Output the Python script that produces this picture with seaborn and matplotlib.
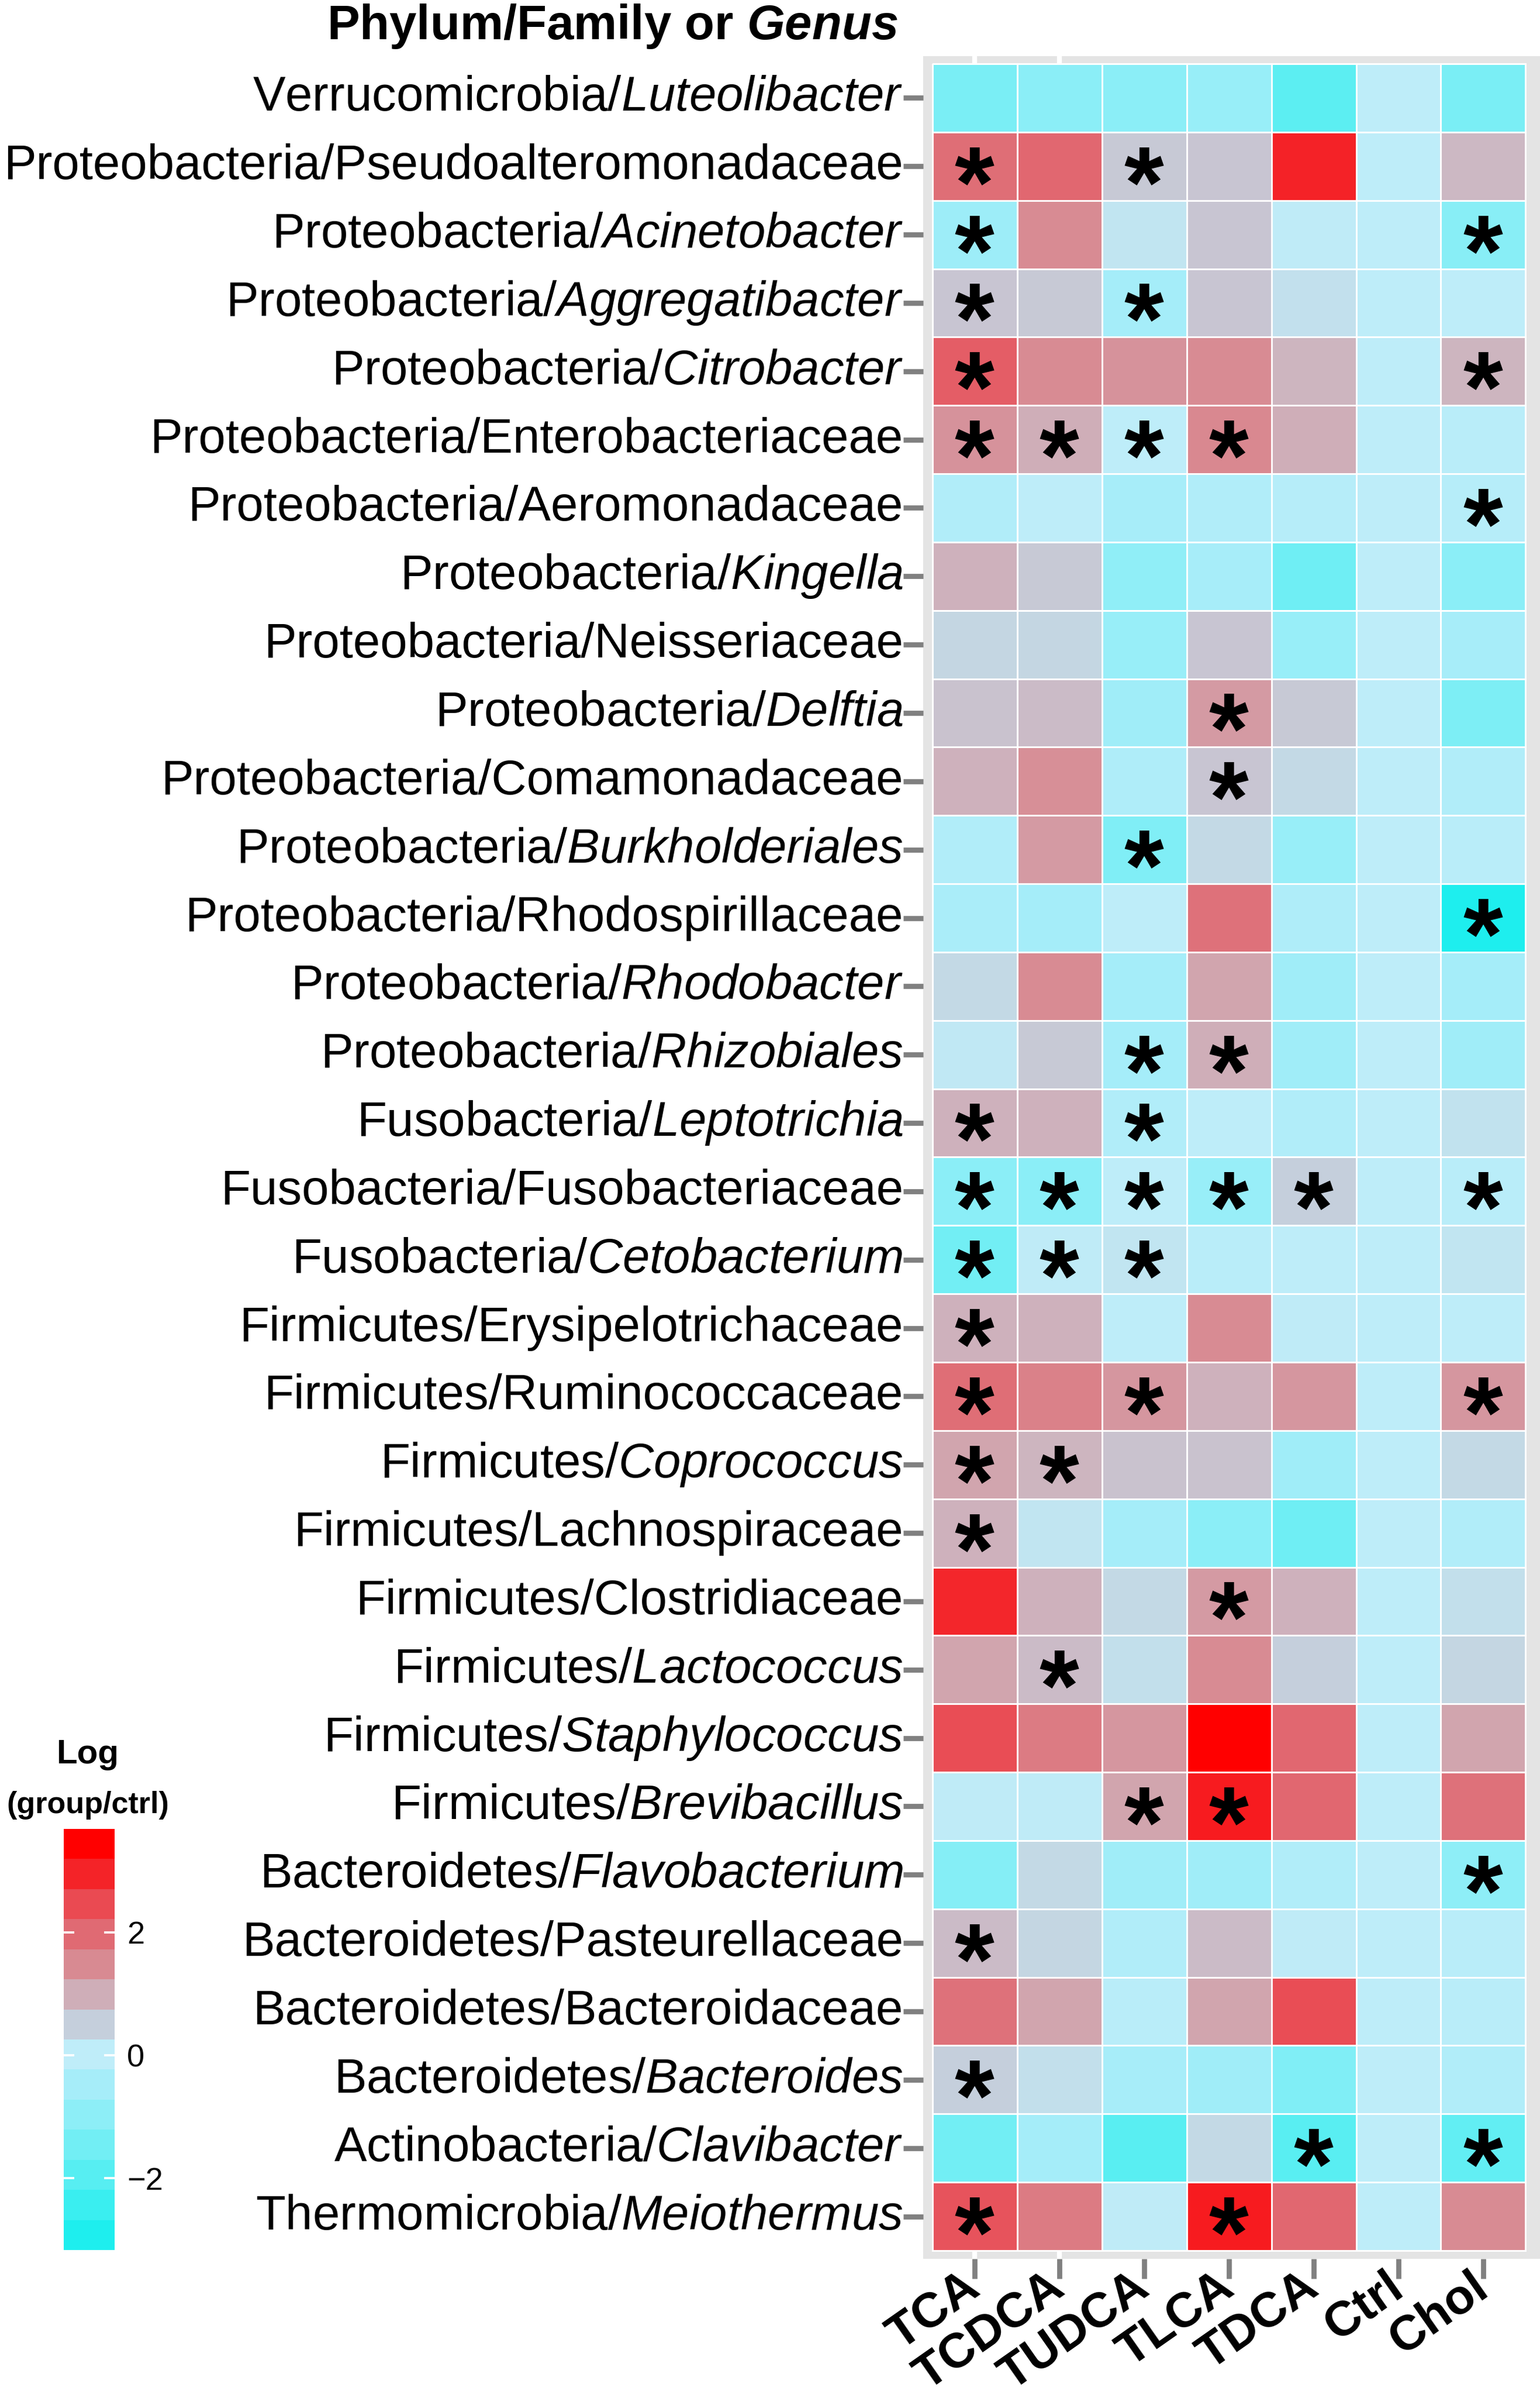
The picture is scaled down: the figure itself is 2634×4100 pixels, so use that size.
import numpy as np
import pandas as pd
import seaborn as sns
import matplotlib
matplotlib.use("Agg")
import matplotlib.pyplot as plt
from matplotlib import font_manager
from matplotlib.font_manager import FontProperties
from matplotlib.colors import LinearSegmentedColormap, ListedColormap, BoundaryNorm
from matplotlib.cm import ScalarMappable
from matplotlib.textpath import TextPath
from matplotlib.transforms import offset_copy

# ---- data -------------------------------------------------------------
groups = ["TCA", "TCDCA", "TUDCA", "TLCA", "TDCA", "Ctrl", "Chol"]

phyla = ["Verrucomicrobia"] + ["Proteobacteria"] * 14 + ["Fusobacteria"] * 3 \
    + ["Firmicutes"] * 8 + ["Bacteroidetes"] * 4 + ["Actinobacteria", "Thermomicrobia"]

taxa = ["Luteolibacter", "Pseudoalteromonadaceae", "Acinetobacter", "Aggregatibacter",
        "Citrobacter", "Enterobacteriaceae", "Aeromonadaceae", "Kingella", "Neisseriaceae",
        "Delftia", "Comamonadaceae", "Burkholderiales", "Rhodospirillaceae", "Rhodobacter",
        "Rhizobiales", "Leptotrichia", "Fusobacteriaceae", "Cetobacterium",
        "Erysipelotrichaceae", "Ruminococcaceae", "Coprococcus", "Lachnospiraceae",
        "Clostridiaceae", "Lactococcus", "Staphylococcus", "Brevibacillus", "Flavobacterium",
        "Pasteurellaceae", "Bacteroidaceae", "Bacteroides", "Clavibacter", "Meiothermus"]

# taxa printed in italics (genus level)
italic_taxa = {"Luteolibacter", "Acinetobacter", "Aggregatibacter", "Citrobacter", "Kingella",
               "Delftia", "Burkholderiales", "Rhodobacter", "Rhizobiales", "Leptotrichia",
               "Cetobacterium", "Coprococcus", "Lactococcus", "Staphylococcus", "Brevibacillus",
               "Flavobacterium", "Bacteroides", "Clavibacter", "Meiothermus"}

# log(group/ctrl), columns follow `groups`
log_ratio = [
    [-1.30, -1.00, -1.00, -0.75, -1.85, 0.0, -1.30],
    [1.90, 2.00, 0.60, 0.65, 2.95, 0.0, 0.85],
    [-0.65, 1.45, 0.15, 0.65, 0.05, 0.0, -1.05],
    [0.65, 0.60, -0.50, 0.65, 0.22, 0.0, 0.00],
    [2.15, 1.45, 1.35, 1.45, 0.90, 0.0, 0.90],
    [1.35, 1.00, 0.00, 1.50, 1.00, 0.0, -0.10],
    [-0.25, 0.00, -0.45, -0.25, -0.15, 0.0, -0.15],
    [0.95, 0.60, -0.90, -0.45, -1.50, 0.0, -1.00],
    [0.40, 0.40, -0.75, 0.65, -0.75, 0.0, -0.45],
    [0.70, 0.80, -0.60, 1.25, 0.60, 0.0, -1.25],
    [0.95, 1.40, -0.30, 0.65, 0.35, 0.0, -0.25],
    [-0.25, 1.25, -1.20, 0.35, -0.75, 0.0, -0.10],
    [-0.40, -0.50, 0.00, 1.85, -0.30, 0.0, -3.10],
    [0.35, 1.45, -0.50, 1.10, -0.60, 0.0, -0.50],
    [0.10, 0.60, -0.50, 1.00, -0.60, 0.0, -0.60],
    [0.95, 0.95, -0.25, 0.00, -0.25, 0.0, 0.20],
    [-1.00, -1.00, 0.00, -0.75, 0.50, 0.0, -0.10],
    [-1.45, 0.05, 0.15, -0.10, 0.00, 0.0, 0.15],
    [0.95, 0.95, 0.00, 1.45, 0.05, 0.0, 0.00],
    [1.90, 1.60, 1.30, 0.95, 1.30, 0.0, 1.30],
    [1.10, 0.90, 0.70, 0.70, -0.60, 0.0, 0.35],
    [0.95, 0.15, -0.50, -1.00, -1.50, 0.0, -0.25],
    [2.90, 0.95, 0.35, 1.25, 0.95, 0.0, 0.25],
    [1.10, 0.80, 0.25, 1.45, 0.50, 0.0, 0.40],
    [2.40, 1.70, 1.30, 3.45, 2.00, 0.0, 1.10],
    [0.05, 0.05, 1.10, 3.05, 2.00, 0.0, 1.85],
    [-1.10, 0.35, -0.60, -0.60, -0.25, 0.0, -0.95],
    [0.80, 0.40, -0.25, 0.80, 0.05, 0.0, -0.10],
    [1.85, 1.10, -0.10, 1.10, 2.40, 0.0, -0.10],
    [0.50, 0.25, -0.45, -0.60, -1.20, 0.0, -0.25],
    [-1.45, -0.50, -1.90, 0.35, -1.90, 0.0, -1.75],
    [2.30, 1.70, 0.05, 3.05, 2.00, 0.0, 1.45],
]

# groups marked with an asterisk, per row
signif = [
    [], ["TCA", "TUDCA"], ["TCA", "Chol"], ["TCA", "TUDCA"], ["TCA", "Chol"],
    ["TCA", "TCDCA", "TUDCA", "TLCA"], ["Chol"], [], [], ["TLCA"], ["TLCA"], ["TUDCA"],
    ["Chol"], [], ["TUDCA", "TLCA"], ["TCA", "TUDCA"],
    ["TCA", "TCDCA", "TUDCA", "TLCA", "TDCA", "Chol"], ["TCA", "TCDCA", "TUDCA"], ["TCA"],
    ["TCA", "TUDCA", "Chol"], ["TCA", "TCDCA"], ["TCA"], ["TLCA"], ["TCDCA"], [],
    ["TUDCA", "TLCA"], ["Chol"], ["TCA"], [], ["TCA"], ["TDCA", "Chol"], ["TCA", "TLCA"],
]

# legend colour steps, top (high) to bottom (low)
legend_colors = ["#FF0000", "#F42328", "#EA4A52", "#E06A73", "#D88A92", "#CFAEB8", "#C5CFDC",
                 "#BFEDF9", "#A6EDF9", "#8DEEF7", "#72EEF4", "#57EEF2", "#3AEEF0", "#1EEEEE"]
legend_ticks = [-2, 0, 2]
CB_MIN, CB_MAX = -3.17, 3.68

# ---- style ----------------------------------------------------------------
W, H, DPI = 2634, 4100, 300
plt.rcParams["font.family"] = ["Liberation Sans", "DejaVu Sans"]
plt.rcParams["mathtext.fontset"] = "custom"
plt.rcParams["mathtext.rm"] = "Liberation Sans"
plt.rcParams["mathtext.it"] = "Liberation Sans:italic"
plt.rcParams["mathtext.bf"] = "Liberation Sans:bold"
plt.rcParams["mathtext.bfit"] = "Liberation Sans:italic:bold"

row_labels = [f"{p}/" + (r"$\mathit{" + t + "}$" if t in italic_taxa else t)
              for p, t in zip(phyla, taxa)]
df = pd.DataFrame(log_ratio, index=row_labels, columns=groups)

# continuous map through the legend colours (placed at the bin centres)
bounds = np.linspace(CB_MIN, CB_MAX, len(legend_colors) + 1)
centres = (bounds[:-1] + bounds[1:]) / 2
low_to_high = legend_colors[::-1]
pos = (centres - centres[0]) / (centres[-1] - centres[0])
cell_cmap = LinearSegmentedColormap.from_list("logratio", list(zip(pos, low_to_high)))

fig = plt.figure(figsize=(W / DPI, H / DPI), dpi=DPI)
ax = fig.add_axes([1579 / W, 1 - 3862 / H, (W - 1579) / W, (3862 - 96) / H])

ax.axvline(0.5, color="white", lw=2.0, zorder=0.5)
ax.axvline(1.5, color="white", lw=2.0, zorder=0.5)

sns.heatmap(df, ax=ax, cmap=cell_cmap, vmin=centres[0], vmax=centres[-1], cbar=False,
            linewidths=0.6, linecolor="white", xticklabels=groups, yticklabels=row_labels)

ax.set_facecolor("#E4E4E4")
ax.set_xlim(-0.107, 7.169)
ax.set_ylim(32.12, -0.111)
for s in ax.spines.values():
    s.set_visible(False)
ax.set_xlabel("")
ax.set_ylabel("")
ax.tick_params(axis="both", color="#808080", length=8.2, width=2.1)
ax.tick_params(axis="y", labelsize=20, pad=0, labelrotation=0)
ax.tick_params(axis="x", labelsize=20, pad=1.5)
for lab in ax.get_xticklabels():
    lab.set_rotation(35)
    lab.set_ha("right")
    lab.set_va("center")
    lab.set_rotation_mode("anchor")
    lab.set_fontweight("bold")
for lab in ax.get_yticklabels():
    lab.set_ha("right")
    lab.set_va("center")

# asterisks centred on their ink box
star_fp = FontProperties(family="Liberation Sans", weight="bold")
ext = TextPath((0, 0), "*", size=100, prop=star_fp).get_extents()
star_fs = 16.1 / (ext.width / 100)
cx = (ext.x0 + ext.x1) / 2 * star_fs / 100
cy = (ext.y0 + ext.y1) / 2 * star_fs / 100
star_tr = offset_copy(ax.transData, fig=fig, x=-cx, y=-cy, units="points")
for i, row in enumerate(signif):
    for g in row:
        j = groups.index(g)
        ax.text(j + 0.5, i + 0.5, "*", transform=star_tr, ha="left", va="baseline",
                fontsize=star_fs, fontweight="bold", color="black")

# title
fig.text(1536 / W, 1 - 67 / H, r"Phylum/Family or $\mathbfit{Genus}$",
         ha="right", va="baseline", fontsize=20, fontweight="bold")

# legend
try:
    font_manager.findfont(FontProperties(family="Liberation Sans Narrow", weight="bold"),
                          fallback_to_default=False)
    leg_family, leg_fs = ["Liberation Sans Narrow", "DejaVu Sans"], 16
except ValueError:
    leg_family, leg_fs = ["Liberation Sans", "DejaVu Sans"], 12.5
fig.text(150 / W, 1 - 3015 / H, "Log", ha="center", va="baseline",
         fontsize=leg_fs + 1.5, fontweight="bold", family=leg_family)
fig.text(150 / W, 1 - 3100 / H, "(group/ctrl)", ha="center", va="baseline",
         fontsize=leg_fs, fontweight="bold", family=leg_family)

cax = fig.add_axes([109 / W, 1 - 3847 / H, 87 / W, 720 / H])
sm = ScalarMappable(norm=BoundaryNorm(bounds, len(legend_colors)),
                    cmap=ListedColormap(low_to_high))
cb = fig.colorbar(sm, cax=cax, ticks=legend_ticks)
cb.outline.set_visible(False)
cb.minorticks_off()
cax.yaxis.set_ticks_position("both")
cax.tick_params(direction="in", color="white", length=4.3, width=0.9, labelsize=13,
                pad=5, labelright=True, labelleft=False)

fig.savefig("out.png", dpi=DPI)
